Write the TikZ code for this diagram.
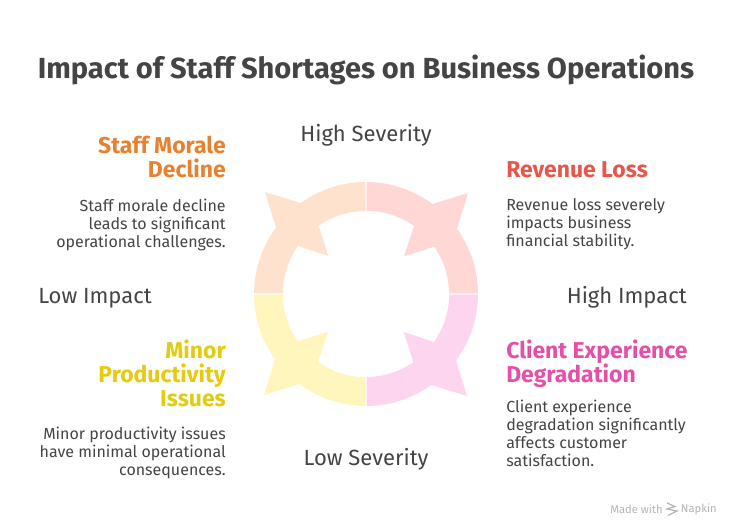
\documentclass[tikz,border=0pt]{standalone}
\usepackage{fontspec}
\setmainfont{Fira Sans}
\usepackage{xcolor}
\usetikzlibrary{positioning}
\definecolor{inkgray}{HTML}{444444}
\definecolor{markgray}{HTML}{B4B4B4}
\definecolor{moraleorange}{HTML}{E68130}
\definecolor{revenuered}{HTML}{E8564A}
\definecolor{issueyellow}{HTML}{E3CB10}
\definecolor{clientpink}{HTML}{E54FA8}
\definecolor{moralefill}{HTML}{FFE2CE}
\definecolor{revenuefill}{HTML}{FFD8D6}
\definecolor{issuefill}{HTML}{FFF6BD}
\definecolor{clientfill}{HTML}{FDD5EF}
\tikzset{
  titletext/.style={text=inkgray, font=\bfseries\fontsize{21.8}{24}\selectfont, inner sep=0pt},
  axistext/.style={text=inkgray, font=\fontsize{16.5}{18}\selectfont, inner sep=0pt},
  headleft/.style={font=\bfseries\fontsize{17.2}{18}\selectfont, anchor=north east, align=right, inner sep=0pt},
  headright/.style={font=\bfseries\fontsize{17.2}{18}\selectfont, anchor=north west, align=left, inner sep=0pt},
  bodyleft/.style={text=inkgray, font=\fontsize{12}{13.5}\selectfont, anchor=north east, align=right, inner sep=0pt},
  bodyright/.style={text=inkgray, font=\fontsize{12}{13.5}\selectfont, anchor=north west, align=left, inner sep=0pt},
  marktext/.style={text=markgray, font=\fontsize{8.4}{10}\selectfont, inner sep=0pt, anchor=east}
}
\begin{document}
\begin{tikzpicture}[x=0.75pt, y=0.75pt]
    \useasboundingbox (0,0) rectangle (732,528);

    % Ring quadrants
    \foreach \ang/\col in {0/revenuefill, 90/moralefill, 180/issuefill, 270/clientfill} {
        \begin{scope}[shift={(366,234)}, rotate=\ang]
            \fill[\col] (0.5,112) arc (89.7:53.5:112) -- (102,101) -- (91,65.3)
                arc (35.7:0.3:112) -- (83,0.5) arc (0.3:34.7:83) -- (38,37.7) -- (48,68)
                arc (54.8:89.7:83) -- cycle;
        \end{scope}
    }

    % Title and axis labels
    \node[titletext] (title) at (366,458) {Impact of Staff Shortages on Business Operations};
    \node[axistext] (high severity) at (366,393) {High Severity};
    \node[axistext] (low severity) at (366,69) {Low Severity};
    \node[axistext, anchor=west] (low impact) at (38,230) {Low Impact};
    \node[axistext, anchor=east] (high impact) at (687,231) {High Impact};

    % Left column
    \node[headleft, text=moraleorange] (morale head) at (226,392) {Staff Morale\\Decline};
    \node[bodyleft] (morale body) at (226,329.5) {Staff morale decline\\leads to significant\\operational challenges.};
    \node[headleft, text=issueyellow] (issues head) at (226,188) {Minor\\Productivity\\Issues};
    \node[bodyleft] (issues body) at (226,101) {Minor productivity issues\\have minimal operational\\consequences.};

    % Right column
    \node[headright, text=revenuered] (revenue head) at (506,367) {Revenue Loss};
    \node[bodyright] (revenue body) at (506,329.5) {Revenue loss severely\\impacts business\\financial stability.};
    \node[headright, text=clientpink] (client head) at (506,188) {Client Experience\\Degradation};
    \node[bodyright] (client body) at (506,128) {Client experience\\degradation significantly\\affects customer\\satisfaction.};

    % Footer mark
    \node[marktext] (made with) at (663,19) {Made with};
    \node[marktext] (napkin) at (717,19) {Napkin};
    \draw[markgray, line width=0.9pt] (667,25) -- (675,21.5) -- (667,19) -- (677,17) -- (668,12.5);
\end{tikzpicture}
\end{document}
